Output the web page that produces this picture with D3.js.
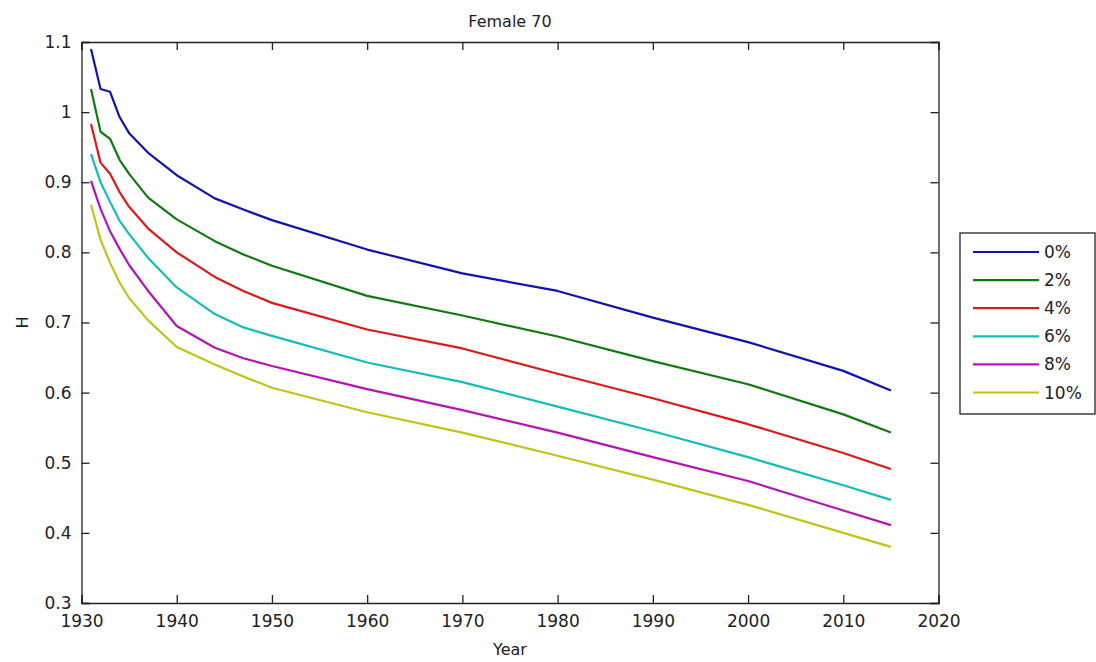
<!DOCTYPE html>
<html>
<head>
<meta charset="utf-8">
<script src="https://cdn.jsdelivr.net/npm/d3@7"></script>
<style>
  body { margin: 0; background: #fff; }
  text { font-family: 'DejaVu Sans', sans-serif; fill: #222; }
</style>
</head>
<body>
<div id="chart"></div>
<script>
let years = [1931, 1932, 1933, 1934, 1935, 1937, 1940, 1944, 1947, 1950, 1960, 1970, 1980, 1990, 2000, 2010, 2015]

let rate0 = [1.090, 1.033, 1.029, 0.993, 0.970, 0.942, 0.910, 0.877, 0.861, 0.846, 0.804, 0.770, 0.745, 0.707, 0.672, 0.631, 0.603]
let rate2 = [1.033, 0.972, 0.962, 0.932, 0.912, 0.878, 0.847, 0.816, 0.797, 0.781, 0.738, 0.710, 0.680, 0.645, 0.612, 0.569, 0.543]
let rate4 = [0.983, 0.928, 0.912, 0.886, 0.865, 0.834, 0.800, 0.765, 0.745, 0.728, 0.690, 0.663, 0.627, 0.592, 0.555, 0.514, 0.491]
let rate6 = [0.940, 0.900, 0.872, 0.845, 0.826, 0.792, 0.750, 0.712, 0.693, 0.681, 0.643, 0.615, 0.580, 0.545, 0.508, 0.468, 0.447]
let rate8 = [0.902, 0.862, 0.830, 0.805, 0.782, 0.745, 0.695, 0.664, 0.649, 0.638, 0.605, 0.575, 0.543, 0.508, 0.474, 0.432, 0.411]
let rate10 = [0.868, 0.818, 0.785, 0.757, 0.735, 0.703, 0.665, 0.640, 0.623, 0.607, 0.572, 0.543, 0.510, 0.476, 0.440, 0.400, 0.380]

let seriesNames = ['0%', '2%', '4%', '6%', '8%', '10%']
let seriesValues = [rate0, rate2, rate4, rate6, rate8, rate10]
let colors = ['#1212b4', '#107a10', '#e01818', '#14bcbc', '#b414b4', '#c2c218']

let xTicks = [1930, 1940, 1950, 1960, 1970, 1980, 1990, 2000, 2010, 2020]
let yTicks = [0.3, 0.4, 0.5, 0.6, 0.7, 0.8, 0.9, 1.0, 1.1]

let width = 1096,
  height = 662
let margin = { left: 81.5, right: 938.5, top: 42, bottom: 603 }

let svg = d3.select('#chart')
  .append('svg')
  .attr('width', width)
  .attr('height', height)

let x = d3.scaleLinear().domain([1930, 2020]).range([margin.left, margin.right])
let y = d3.scaleLinear().domain([0.3, 1.1]).range([margin.bottom, margin.top])

let series = seriesNames.map(function (name, i) {
  return {
    name: name,
    color: colors[i],
    points: years.map(function (yr, j) { return { year: yr, value: seriesValues[i][j] } })
  }
})

let line = d3.line()
  .x(function (d) { return x(d.year) })
  .y(function (d) { return y(d.value) })

// curves
svg.selectAll('.curve')
  .data(series)
  .enter().append('path')
  .attr('class', 'curve')
  .attr('d', function (d) { return line(d.points) })
  .attr('fill', 'none')
  .attr('stroke', function (d) { return d.color })
  .attr('stroke-width', 2.2)
  .attr('stroke-linejoin', 'round')

// axes, matlab style: ticks inside on all four sides
let tickLen = 8
let fmtY = function (d) { return d === 1 ? '1' : d3.format('.1f')(d) }

svg.append('g')
  .attr('transform', 'translate(0,' + margin.bottom + ')')
  .call(d3.axisBottom(x).tickValues(xTicks).tickFormat(d3.format('d')).tickSize(-tickLen).tickPadding(12))
svg.append('g')
  .attr('transform', 'translate(0,' + margin.top + ')')
  .call(d3.axisTop(x).tickValues(xTicks).tickFormat('').tickSize(-tickLen))
svg.append('g')
  .attr('transform', 'translate(' + margin.left + ',0)')
  .call(d3.axisLeft(y).tickValues(yTicks).tickFormat(fmtY).tickSize(-tickLen).tickPadding(10))
svg.append('g')
  .attr('transform', 'translate(' + margin.right + ',0)')
  .call(d3.axisRight(y).tickValues(yTicks).tickFormat('').tickSize(-tickLen))

svg.selectAll('.domain').attr('stroke', '#222').attr('stroke-width', 1.3)
svg.selectAll('.tick line').attr('stroke', '#222').attr('stroke-width', 1.3)
svg.selectAll('.tick text').attr('font-size', 17).attr('font-family', "'DejaVu Sans', sans-serif").attr('fill', '#222')

// titles
svg.append('text')
  .attr('x', (margin.left + margin.right) / 2)
  .attr('y', 27)
  .attr('text-anchor', 'middle')
  .attr('font-size', 16)
  .text('Female 70')

svg.append('text')
  .attr('x', (margin.left + margin.right) / 2)
  .attr('y', 655)
  .attr('text-anchor', 'middle')
  .attr('font-size', 16)
  .text('Year')

svg.append('text')
  .attr('transform', 'translate(28,' + (margin.top + margin.bottom) / 2 + ') rotate(-90)')
  .attr('text-anchor', 'middle')
  .attr('font-size', 16)
  .text('H')

// legend
let legend = svg.append('g').attr('transform', 'translate(960,233)')
legend.append('rect')
  .attr('width', 135)
  .attr('height', 181)
  .attr('fill', '#fff')
  .attr('stroke', '#222')
  .attr('stroke-width', 1.3)

let items = legend.selectAll('.item')
  .data(series)
  .enter().append('g')
  .attr('class', 'item')
  .attr('transform', function (d, i) { return 'translate(0,' + (19 + i * 28.1) + ')' })

items.append('line')
  .attr('x1', 13)
  .attr('x2', 79)
  .attr('stroke', function (d) { return d.color })
  .attr('stroke-width', 2.2)

items.append('text')
  .attr('x', 84)
  .attr('dy', 6)
  .attr('font-size', 17)
  .text(function (d) { return d.name })
</script>
</body>
</html>
